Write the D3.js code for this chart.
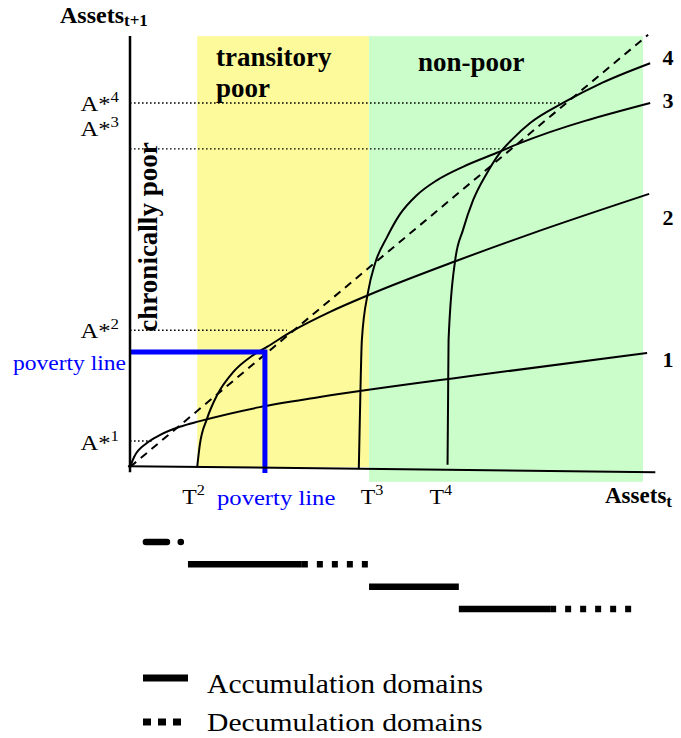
<!DOCTYPE html>
<html><head><meta charset="utf-8">
<script src="https://cdn.jsdelivr.net/npm/d3@7"></script>
<style>html,body{margin:0;padding:0;background:#fff;}svg{display:block;}</style>
</head><body>
<script>
// ---------- DATA (in asset units) ----------
const regionNames = ["transitory poor", "non-poor"];
const regionStart = [1.31, 4.66];
const regionEnd   = [4.66, 10.0];
const regionBottom = [0, -0.34];
const regionTop   = [9.86, 9.86];

const curveNames = ["1", "2", "3", "4"];
const curve1 = [[0,0],[0.08,0.23],[0.33,0.55],[0.58,0.73],[0.97,0.92],[1.36,1.05],[2.53,1.37],[3.70,1.60],[6.82,2.11],[10.08,2.61]];
const curve2 = [[1.31,0],[1.36,0.5],[1.50,1.10],[1.70,1.65],[2.01,2.17],[2.40,2.56],[2.67,2.75],[3.18,3.12],[3.90,3.55],[4.64,3.93],[6.37,4.72],[7.80,5.33],[10.12,6.25]];
const curve3 = [[4.46,-0.05],[4.48,1.08],[4.52,2.91],[4.64,4.00],[4.78,4.67],[5.01,5.26],[5.26,5.78],[5.59,6.22],[5.98,6.56],[6.49,6.87],[7.15,7.19],[7.60,7.41],[10.14,8.33]];
const curve4 = [[6.19,0.05],[6.20,1.5],[6.21,2.91],[6.34,4.74],[6.49,5.42],[6.69,6.11],[6.96,6.73],[7.21,7.19],[7.47,7.52],[7.80,7.87],[8.44,8.33],[9.22,8.80],[10.14,9.24]];
const diagonal = [[0,0],[10.1,9.89]];

const steadyStates = ["A*1", "A*2", "A*3", "A*4"];
const steadyX = [0.43, 3.06, 7.25, 8.38];
const steadyY = [0.595, 3.13, 7.28, 8.33];

const thresholdLabels = ["T2", "T3", "T4"];
const thresholdValues = [1.31, 4.46, 6.21];

const povertyLine = 2.63;

const accumFrom = [0.31, 1.13, 4.66, 6.41];
const accumTo   = [0.72, 3.35, 6.41, 8.19];
const decumFrom = [0.99, 3.35, null, 8.19];
const decumTo   = [0.99, 4.66, null, 9.79];

const legendLabels = ["Accumulation domains", "Decumulation domains"];

// ---------- LAYOUT ----------
const W = 681, H = 738;
const svg = d3.select("body").append("svg").attr("width", W).attr("height", H);
const x = d3.scaleLinear().domain([0, 10]).range([130, 643]);
const y = d3.scaleLinear().domain([0, 10]).range([467, 30]);
const rowY = d3.scalePoint().domain([0,1,2,3]).range([542, 609]);
const SERIF = "'Liberation Serif','Times New Roman',serif";
const K = 1.12; // horizontal stretch of regular serif text in the picture

function txt(px, py, parts, o) {
  o = o || {};
  const g = svg.append("g").attr("transform", `translate(${px},${py}) scale(${o.k||1},1)`);
  const t = g.append("text").attr("x", 0).attr("y", 0)
    .attr("font-family", SERIF).attr("font-size", o.size || 22)
    .attr("font-weight", o.bold ? "bold" : "normal")
    .attr("fill", o.color || "#000")
    .attr("text-anchor", o.anchor || "start");
  parts.forEach(p => {
    const s = t.append("tspan").text(p.t);
    if (p.sup) s.attr("font-size", p.size || 15).attr("dy", p.dy || -9);
    if (p.sub) s.attr("font-size", p.size || 17).attr("dy", p.dy || 4);
  });
  return t;
}

// regions
const regionColors = ["#fcfa9a", "#cbfdcb"];
regionNames.forEach((n, i) => {
  svg.append("rect")
    .attr("x", x(regionStart[i])).attr("y", y(regionTop[i]))
    .attr("width", x(regionEnd[i]) - x(regionStart[i]))
    .attr("height", y(regionBottom[i]) - y(regionTop[i]))
    .attr("fill", regionColors[i]);
});

// steady-state dotted guides
steadyStates.forEach((s, i) => {
  svg.append("line").attr("x1", x(0)).attr("x2", x(steadyX[i]))
    .attr("y1", y(steadyY[i])).attr("y2", y(steadyY[i]))
    .attr("stroke", "#000").attr("stroke-width", 1.4).attr("stroke-dasharray", "1.6,2.4");
});

// diagonal
const line = d3.line().x(d => x(d[0])).y(d => y(d[1]));
svg.append("path").attr("d", line(diagonal)).attr("fill", "none")
  .attr("stroke", "#000").attr("stroke-width", 2).attr("stroke-dasharray", "8,6");

// curves
const curveLine = d3.line().x(d => x(d[0])).y(d => y(d[1])).curve(d3.curveMonotoneX);
[curve1, curve2, curve3, curve4].forEach(c => {
  svg.append("path").attr("d", curveLine(c)).attr("fill", "none")
    .attr("stroke", "#000").attr("stroke-width", 2);
});

// poverty line
svg.append("path").attr("d", line([[0, povertyLine],[povertyLine, povertyLine],[povertyLine, -0.14]]))
  .attr("fill", "none").attr("stroke", "#0000ff").attr("stroke-width", 5).attr("stroke-linejoin", "miter");

// axes
svg.append("path").attr("d", line([[0,9.86],[0,-0.12]])).attr("stroke", "#000").attr("stroke-width", 2.5);
svg.append("path").attr("d", line([[-0.04,0.02],[10.24,-0.12]])).attr("stroke", "#000").attr("stroke-width", 2);

// axis titles
txt(60, 23, [{t:"Assets"},{t:"t+1", sub:true, size:17, dy:3}], {bold:true, size:24});
txt(605, 503, [{t:"Assets"},{t:"t", sub:true, size:17, dy:4}], {bold:true, size:23});

// region labels
txt(216, 66, [{t:"transitory"}], {bold:true, size:27});
txt(216, 97, [{t:"poor"}], {bold:true, size:27});
txt(418, 71, [{t:"non-poor"}], {bold:true, size:27});
svg.append("text").attr("transform", "translate(157,237) rotate(-90)")
  .attr("text-anchor", "middle").attr("font-family", SERIF).attr("font-weight", "bold")
  .attr("font-size", 27).text("chronically poor");

// steady-state labels
const steadyLabelDy = [9, 8, -13, 8];
steadyStates.forEach((s, i) => {
  txt(119, y(steadyY[i]) + steadyLabelDy[i], [{t:"A*"},{t:s.slice(2), sup:true}], {size:22, k:K, anchor:"end"});
});

// threshold labels
const thresholdDx = [-15, 2, -19];
thresholdLabels.forEach((s, i) => {
  txt(x(thresholdValues[i]) + thresholdDx[i], 504, [{t:"T"},{t:s.slice(1), sup:true}], {size:22, k:1.08});
});

// poverty line labels
txt(13, 370, [{t:"poverty line"}], {size:21, k:K, color:"#0000ff"});
txt(217, 505, [{t:"poverty line"}], {size:22, k:K, color:"#0000ff"});

// curve numbers
const numY = [367, 225, 108, 65];
curveNames.forEach((n, i) => {
  txt(668, numY[i], [{t:n}], {bold:true, size:22, anchor:"middle"});
});

// domain bars
accumFrom.forEach((a, i) => {
  svg.append("line").attr("x1", x(a)).attr("x2", x(accumTo[i]))
    .attr("y1", rowY(i)).attr("y2", rowY(i))
    .attr("stroke", "#000").attr("stroke-width", 6.5)
    .attr("stroke-linecap", i === 0 ? "round" : "butt");
  if (decumFrom[i] !== null) {
    if (decumFrom[i] === decumTo[i]) {
      svg.append("circle").attr("cx", x(decumFrom[i])).attr("cy", rowY(i)).attr("r", 3.3).attr("fill", "#000");
    } else {
      svg.append("line").attr("x1", x(decumFrom[i])).attr("x2", x(decumTo[i]))
        .attr("y1", rowY(i)).attr("y2", rowY(i))
        .attr("stroke", "#000").attr("stroke-width", 6.5).attr("stroke-dasharray", "6,9");
    }
  }
});

// legend
svg.append("line").attr("x1", 143).attr("x2", 188).attr("y1", 678).attr("y2", 678)
  .attr("stroke", "#000").attr("stroke-width", 7);
svg.append("line").attr("x1", 143).attr("x2", 182).attr("y1", 722).attr("y2", 722)
  .attr("stroke", "#000").attr("stroke-width", 7).attr("stroke-dasharray", "8,7");
txt(207, 693, [{t:legendLabels[0]}], {size:26.5, k:1.12});
txt(207, 731, [{t:legendLabels[1]}], {size:26, k:1.14});
</script>
</body></html>
